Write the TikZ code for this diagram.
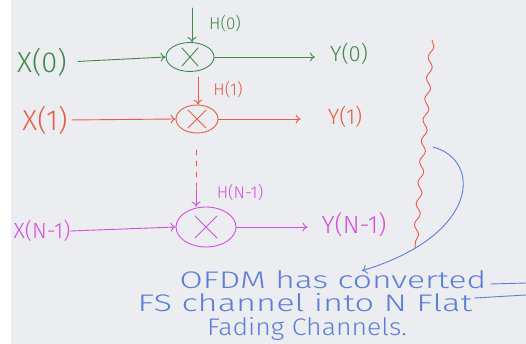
\documentclass[tikz,border=0pt]{standalone}
\usepackage{fontspec}
\setmainfont{Fira Sans}[UprightFont={* Light}]
\usetikzlibrary{arrows.meta,shapes.geometric,decorations.pathmorphing}
\definecolor{pgreen}{RGB}{62,138,78}
\definecolor{pred}{RGB}{232,92,70}
\definecolor{pmag}{RGB}{214,78,218}
\definecolor{pblue}{RGB}{92,126,214}
\definecolor{paper}{RGB}{236,237,241}
\tikzset{
  pen/.style={line width=0.9pt, line cap=round, line join=round},
  tip/.style={-{To[length=5pt,width=9pt]}},
  mixer/.style={ellipse, draw, pen, inner sep=0pt},
  xlabel/.style={inner sep=0pt, font=\fontsize{29}{29}\selectfont},
  ylabel/.style={inner sep=0pt, font=\fontsize{22}{22}\selectfont},
  hlabel/.style={inner sep=0pt, font=\fontsize{17}{17}\selectfont},
  note/.style={inner sep=0pt, text=pblue, font=\fontsize{24}{24}\selectfont},
}
\begin{document}
\begin{tikzpicture}[x=1pt,y=-1pt]
  % sheet
  \fill[paper] (0,0) rectangle (526,344);
  \fill[white] (0,0) rectangle (11,344);
  \useasboundingbox (0,0) rectangle (526,344);

  % ---- subcarrier 0 ----
  \begin{scope}[color=pgreen]
    \node[xlabel, text=pgreen] (x0) at (42,62) {X(0)};
    \node[mixer, minimum width=48pt, minimum height=29pt] (m0) at (190,57) {};
    \draw[pen] ([shift={(-8,9)}]m0.center) -- ([shift={(8,-9)}]m0.center)
               ([shift={(-8,-9)}]m0.center) -- ([shift={(8,9)}]m0.center);
    \node[ylabel, text=pgreen] (y0) at (349,54) {Y(0)};
    \node[hlabel, text=pgreen] (h0) at (225,24) {H(0)};
    \coordinate (h0s) at (192,8);
    \draw[pen, tip, shorten <=11pt] (x0.east) -- (m0.west);
    \draw[pen, tip, shorten >=15pt] (m0.east) -- (m0.east -| y0.west);
    \draw[pen, tip] (h0s) -- (h0s |- m0.north);
  \end{scope}

  % ---- subcarrier 1 ----
  \begin{scope}[color=pred]
    \node[xlabel, text=pred] (x1) at (45,120) {X(1)};
    \node[mixer, minimum width=42pt, minimum height=28pt] (m1) at (197,119) {};
    \draw[pen] ([shift={(-9,9)}]m1.center) -- ([shift={(9,-9)}]m1.center)
               ([shift={(-9,-9)}]m1.center) -- ([shift={(9,9)}]m1.center);
    \node[ylabel, text=pred] (y1) at (345,117) {Y(1)};
    \node[hlabel, text=pred] (h1) at (228,90) {H(1)};
    \coordinate (h1s) at (198,77);
    \draw[pen, tip, shorten <=4pt] (x1.east) -- (m1.west);
    \draw[pen, tip, shorten >=27pt] (m1.east) -- (m1.east -| y1.west);
    \draw[pen, tip] (h1s) -- (h1s |- m1.north);
  \end{scope}

  % ---- subcarrier N-1 ----
  \begin{scope}[color=pmag]
    \node[xlabel, text=pmag, font=\fontsize{22}{22}\selectfont] (xn) at (42,231) {X(N-1)};
    \node[mixer, minimum width=60pt, minimum height=40pt] (mn) at (206,227) {};
    \draw[pen] ([shift={(-11,11)}]mn.center) -- ([shift={(11,-11)}]mn.center)
               ([shift={(-11,-11)}]mn.center) -- ([shift={(11,11)}]mn.center);
    \node[ylabel, text=pmag, font=\fontsize{25}{25}\selectfont] (yn) at (354,225) {Y(N-1)};
    \node[hlabel, text=pmag] (hn) at (240,193) {H(N-1)};
    \coordinate (hns) at (196,150);
    \coordinate (hnm) at (196,189);
    \draw[pen, pred, dash pattern=on 5pt off 6pt] (hns) -- (hnm);
    \draw[pen, tip] (hnm) -- (hnm |- mn.north);
    \draw[pen, tip] (xn.east) -- (mn.west);
    \draw[pen, tip, shorten >=14pt] (mn.east) -- (mn.east -| yn.west);
  \end{scope}

  % ---- brace and remark ----
  \coordinate (wt) at (432,40);
  \coordinate (wb) at (415,248);
  \draw[pen, pred, decorate, decoration={snake, segment length=21pt, amplitude=2.5pt}] (wt) -- (wb);

  \node[note] (t1) at (333,280) {\scalebox{1.40}[1]{OFDM has converted}};
  \node[note] (t2) at (305,303) {\scalebox{1.43}[1]{FS channel into N Flat}};
  \node[note] (t3) at (307,329) {\scalebox{1.11}[1]{Fading Channels.}};
  \coordinate (cs) at (433,147);
  \draw[pen, pblue, tip] (cs) .. controls (482,160) and (480,235) .. (t1.north east -| 362,0) ;
  \draw[pen, pblue] (t1.east) ++(4,4) -- (526,283);
  \draw[pen, pblue] (t2.east) ++(2,-5) -- (526,295);
\end{tikzpicture}
\end{document}
